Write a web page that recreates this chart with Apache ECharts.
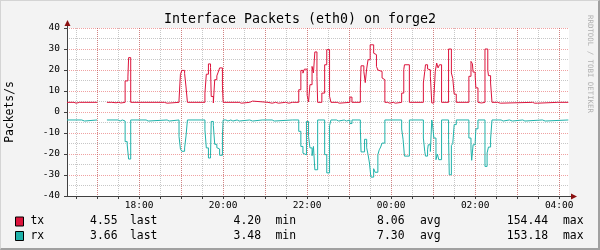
<!DOCTYPE html>
<html><head><meta charset="utf-8">
<script src="https://cdn.jsdelivr.net/npm/echarts@6/dist/echarts.min.js"></script>
<style>
html,body{margin:0;padding:0;background:#f3f3f3;}
#wrap{position:relative;width:600px;height:250px;}
#c{position:absolute;left:0;top:0;width:600px;height:250px;}
#frame{position:absolute;left:0;top:0;width:600px;height:250px;box-sizing:border-box;pointer-events:none;
 border-top:1px solid #d4d4d4;border-left:1px solid #d4d4d4;border-right:2px solid #a0a0a0;border-bottom:2px solid #a0a0a0;}
</style></head><body>
<div id="wrap"><div id="c"></div><div id="frame"></div></div>
<script>
// ---- data ----
const chartTitle = 'Interface Packets (eth0) on forge2';
const unitLabel = 'Packets/s';
const watermark = 'RRDTOOL / TOBI OETIKER';
const axisStart = '16:17';
const axisEnd = '04:14';
const yTicks = [-40, -30, -20, -10, 0, 10, 20, 30, 40];

const seriesNames = ['tx', 'rx'];
const seriesColors = ['#dc143c', '#20b2aa'];
const statLabels = ['last', 'min', 'avg', 'max'];
const txStats = [4.55, 4.20, 8.06, 154.44];
const rxStats = [3.66, 3.48, 7.30, 153.18];

// tx: value holds from its time until the next time
const txTimes = ['16:17','16:27','16:30','16:35','16:37','17:00','17:01','17:14','17:21','17:23','17:27','17:31','17:34','17:40','17:44','17:45','17:48',
 '18:36','18:40','18:57','18:59','19:01','19:05','19:07','19:09','19:34','19:36','19:39','19:42','19:43','19:46','19:48','19:51','19:53','19:55','19:59','20:00',
 '20:23','20:26','20:38','20:42','21:04','21:10','21:15','21:19','21:29','21:34','21:39','21:41',
 '21:48','21:51','21:54','21:56','22:00','22:02','22:04','22:07','22:09','22:11','22:14','22:15','22:21','22:25','22:28','22:32','22:34',
 '22:43','22:46','23:01','23:04','23:16','23:17','23:21','23:23','23:25','23:27','23:30','23:35','23:37','23:39','23:41','23:43','23:47','23:49','23:51',
 '23:55','23:58','00:03','00:06','00:15','00:18','00:19','00:26','00:46','00:48','00:49','00:52','00:53','00:56','00:58','01:01','01:03','01:05','01:07','01:09','01:12',
 '01:22','01:26','01:28','01:30','01:33','01:51','01:54','01:56','01:57','02:00','02:01','02:04','02:06','02:09','02:14','02:18','02:19','02:22','02:24',
 '02:32','02:36','03:22','03:25','03:27','03:29','03:58','03:59','04:13'];
const txValues = [4.6,4.2,4.6,4.2,4.6,4.6,null,4.6,5.4,4.4,4.6,4.3,4.6,14.8,16.7,25.9,4.6,
 4.2,4.6,5.7,17.9,19.8,18.3,11.9,4.6,9.0,18.0,22.9,21.2,7.4,4.3,15.4,17.2,19.0,21.0,12.5,4.6,
 4.2,4.6,5.2,4.6,4.2,4.6,4.2,4.6,4.2,4.6,5.2,4.6,
 10.6,19.8,18.5,20.4,8.0,4.8,13.0,21.7,18.6,28.6,16.9,4.6,9.0,22.5,29.7,7.5,4.6,
 4.2,4.6,7.1,4.6,11.4,22.0,19.3,14.0,20.5,24.9,32.0,28.0,27.3,21.7,20.0,19.3,16.2,15.4,4.6,
 4.2,4.6,4.2,4.6,9.0,20.2,22.5,4.6,13.8,19.4,22.5,20.5,20.1,17.0,4.3,6.7,19.4,23.3,21.0,22.5,4.6,
 30.0,18.6,16.0,8.5,4.6,17.0,24.1,23.0,19.0,17.0,11.5,4.6,4.3,4.6,30.0,19.8,17.3,13.8,4.6,
 4.2,4.6,4.2,4.6,4.2,4.6,4.2,4.6,4.55];

// rx (drawn below zero)
const rxTimes = ['16:17','16:38','16:42','17:00','17:01','17:14','17:30','17:33','17:36','17:40','17:43','17:45','17:48','18:10','18:13','18:40','18:43',
 '18:57','18:59','19:01','19:05','19:07','19:09','19:34','19:36','19:39','19:42','19:43','19:46','19:48','19:51','19:53','19:55','19:59','20:00',
 '20:04','20:07','20:11','20:14','20:20','20:23','20:38','20:42','20:56','20:58','21:10','21:13','21:39','21:41',
 '21:48','21:51','21:54','21:56','21:59','22:02','22:04','22:07','22:09','22:11','22:15','22:25','22:28','22:32','22:34',
 '22:42','22:45','22:53','22:56','23:01','23:04','23:16','23:17','23:22','23:25','23:27','23:29','23:31','23:35','23:37','23:41','23:43','23:45','23:47','23:51',
 '00:15','00:17','00:19','00:26','00:46','00:48','00:49','00:52','00:53','00:56','00:58','00:59','01:01','01:04','01:06','01:08','01:12',
 '01:22','01:23','01:26','01:28','01:30','01:33','01:51','01:54','01:55','01:57','02:00','02:01','02:04','02:14','02:17','02:19','02:22','02:24',
 '02:37','02:40','02:49','02:53','03:08','03:11','03:36','03:40','04:13'];
const rxValues = [3.8,4.3,3.8,3.8,null,3.8,4.3,3.8,4.3,14.1,15.7,22.4,3.8,4.3,3.8,4.3,3.8,
 11.6,17.6,18.7,17.1,11.4,3.8,8.5,17.1,21.9,20.6,4.5,6.4,15.4,17.0,17.6,20.6,11.4,3.8,
 4.3,3.8,4.3,3.8,4.3,3.8,4.3,3.8,4.3,3.8,4.3,3.8,4.3,3.8,
 9.2,16.4,19.6,20.4,4.5,11.7,17.1,20.8,16.4,27.5,3.8,20.3,29.0,6.5,3.8,
 4.3,3.8,4.3,3.8,5.5,3.8,8.0,19.0,13.0,17.0,20.3,24.3,31.0,27.0,28.7,20.3,18.0,16.7,14.8,3.8,
 8.1,13.0,21.0,3.8,12.4,18.8,21.0,18.0,15.6,18.8,3.8,5.5,12.4,22.7,20.0,22.7,3.8,
 13.0,29.9,16.0,15.0,6.0,3.8,12.4,17.5,23.0,15.6,14.5,8.0,3.8,25.9,19.5,16.7,12.9,3.8,
 4.3,3.8,4.3,3.8,4.3,3.8,4.3,3.8,3.66];

// ---- helpers ----
function toMin(s) { const p = s.split(':').map(Number); return p[0] * 60 + p[1] + (p[0] < 12 ? 1440 : 0); }
function fmtClock(v) { const m = ((v % 1440) + 1440) % 1440; const h = Math.floor(m / 60), mm = m % 60; return String(h).padStart(2, '0') + ':' + String(mm).padStart(2, '0'); }

// one category per minute of the time axis
const minuteCategories = [];
for (let m = toMin(axisStart); m <= toMin(axisEnd); m++) minuteCategories.push(fmtClock(m));
const isHalfHour = (i, v) => toMin(v) % 30 === 0;
const isHour = (i, v) => toMin(v) % 60 === 0;
const isLabel = (i, v) => toMin(v) % 120 === 0;

const MONO = '"DejaVu Sans Mono", monospace';
const gridDash = [1, 1];
const minorColor = 'rgba(143,143,143,0.5)';
const majorColor = 'rgba(222,48,48,0.45)';
const axisColor = '#404040';

const chart = echarts.init(document.getElementById('c'), null, { renderer: 'canvas' });

function lineSeries(name, times, vals, sign, color) {
  return {
    name, type: 'line', step: 'end', showSymbol: false, symbol: 'none', animation: false,
    connectNulls: false, xAxisIndex: 0, yAxisIndex: 0,
    lineStyle: { color, width: 1 }, itemStyle: { color }, z: 5,
    data: times.map((t, i) => [t, vals[i] == null ? '-' : sign * vals[i]])
  };
}

chart.setOption({
  animation: false,
  backgroundColor: '#f3f3f3',
  grid: { left: 67, top: 28, width: 502, height: 168, show: true, backgroundColor: '#ffffff', borderWidth: 0,
          containLabel: false, outerBoundsMode: 'none' },
  xAxis: [
    {
      type: 'category', data: minuteCategories, boundaryGap: false,
      axisLine: { show: true, onZero: false, lineStyle: { color: axisColor, width: 1 } },
      axisTick: { show: true, length: 3, interval: isHalfHour, lineStyle: { color: axisColor } },
      axisLabel: { show: true, margin: 5, color: '#000', fontFamily: MONO, fontSize: 9.5, interval: isLabel },
      splitLine: { show: true, interval: isHalfHour, lineStyle: { color: minorColor, type: gridDash, width: 1 } }
    },
    {
      type: 'category', data: minuteCategories, boundaryGap: false, position: 'bottom',
      axisLine: { show: false }, axisTick: { show: false }, axisLabel: { show: false },
      splitLine: { show: true, interval: isHour, lineStyle: { color: majorColor, type: gridDash, width: 1 } }
    }
  ],
  yAxis: [{
    type: 'value', min: yTicks[0], max: yTicks[yTicks.length - 1], interval: 10,
    axisLine: { show: true, onZero: false, lineStyle: { color: axisColor, width: 1 } },
    axisTick: { show: true, length: 3, lineStyle: { color: axisColor } },
    axisLabel: { margin: 7, color: '#000', fontFamily: MONO, fontSize: 9.5, formatter: v => String(v) },
    splitLine: { show: true, lineStyle: { color: majorColor, type: gridDash, width: 1 } },
    minorTick: { show: false, splitNumber: 2 },
    minorSplitLine: { show: true, lineStyle: { color: minorColor, type: gridDash, width: 1 } }
  }],
  series: [
    lineSeries(seriesNames[0], txTimes, txValues, 1, seriesColors[0]),
    lineSeries(seriesNames[1], rxTimes, rxValues, -1, seriesColors[1])
  ]
});

// decorations derived from the axes
const lastCat = minuteCategories[minuteCategories.length - 1];
const pTopLeft = chart.convertToPixel({ xAxisIndex: 0, yAxisIndex: 0 }, [minuteCategories[0], yTicks[yTicks.length - 1]]);
const pBotRight = chart.convertToPixel({ xAxisIndex: 0, yAxisIndex: 0 }, [lastCat, yTicks[0]]);
const ax = Math.round(pTopLeft[0]) + 0.5, ay = Math.round(pBotRight[1]) + 0.5;
const arrowColor = '#8b1010';

const g = [];
g.push({ type: 'text', left: 'center', top: 13, style: { text: chartTitle, font: '13.3px ' + MONO, fill: '#000' } });
g.push({ type: 'text', x: 10.5, y: (pTopLeft[1] + pBotRight[1]) / 2, rotation: Math.PI / 2, style: { text: unitLabel, font: '11.4px ' + MONO, fill: '#000', align: 'center', verticalAlign: 'middle' } });
g.push({ type: 'text', x: 590, y: 64, rotation: -Math.PI / 2, style: { text: watermark, font: '7.4px ' + MONO, fill: '#b0b0b0', align: 'center', verticalAlign: 'middle' } });
g.push({ type: 'line', shape: { x1: ax, y1: pTopLeft[1], x2: ax, y2: pTopLeft[1] - 6 }, style: { stroke: axisColor, lineWidth: 1 }, z: 10 });
g.push({ type: 'polygon', shape: { points: [[ax - 3, pTopLeft[1] - 2], [ax + 3, pTopLeft[1] - 2], [ax, pTopLeft[1] - 8]] }, style: { fill: arrowColor }, z: 11 });
g.push({ type: 'line', shape: { x1: pBotRight[0], y1: ay, x2: pBotRight[0] + 3, y2: ay }, style: { stroke: axisColor, lineWidth: 1 }, z: 10 });
g.push({ type: 'polygon', shape: { points: [[pBotRight[0] + 2, ay - 3], [pBotRight[0] + 2, ay + 3], [pBotRight[0] + 8, ay]] }, style: { fill: arrowColor }, z: 11 });

// legend rows
const rowsY = [221.5, 236];
const statsRows = [txStats, rxStats];
const numRight = [117.5, 261, 404.5, 548];
const labLeft = [130, 275.5, 420, 563];
const LFONT = '11.4px ' + MONO;
seriesNames.forEach((nm, r) => {
  const y = rowsY[r];
  g.push({ type: 'rect', shape: { x: 15.5, y: y - 4.5, width: 8, height: 9 }, style: { fill: seriesColors[r], stroke: '#000', lineWidth: 1 } });
  g.push({ type: 'text', x: 30.5, y: y, style: { text: nm, font: LFONT, fill: '#000', align: 'left', verticalAlign: 'middle' } });
  statsRows[r].forEach((v, k) => {
    g.push({ type: 'text', x: numRight[k], y: y, style: { text: v.toFixed(2), font: LFONT, fill: '#000', align: 'right', verticalAlign: 'middle' } });
    g.push({ type: 'text', x: labLeft[k], y: y, style: { text: statLabels[k], font: LFONT, fill: '#000', align: 'left', verticalAlign: 'middle' } });
  });
});
chart.setOption({ graphic: g });
</script>
</body></html>
